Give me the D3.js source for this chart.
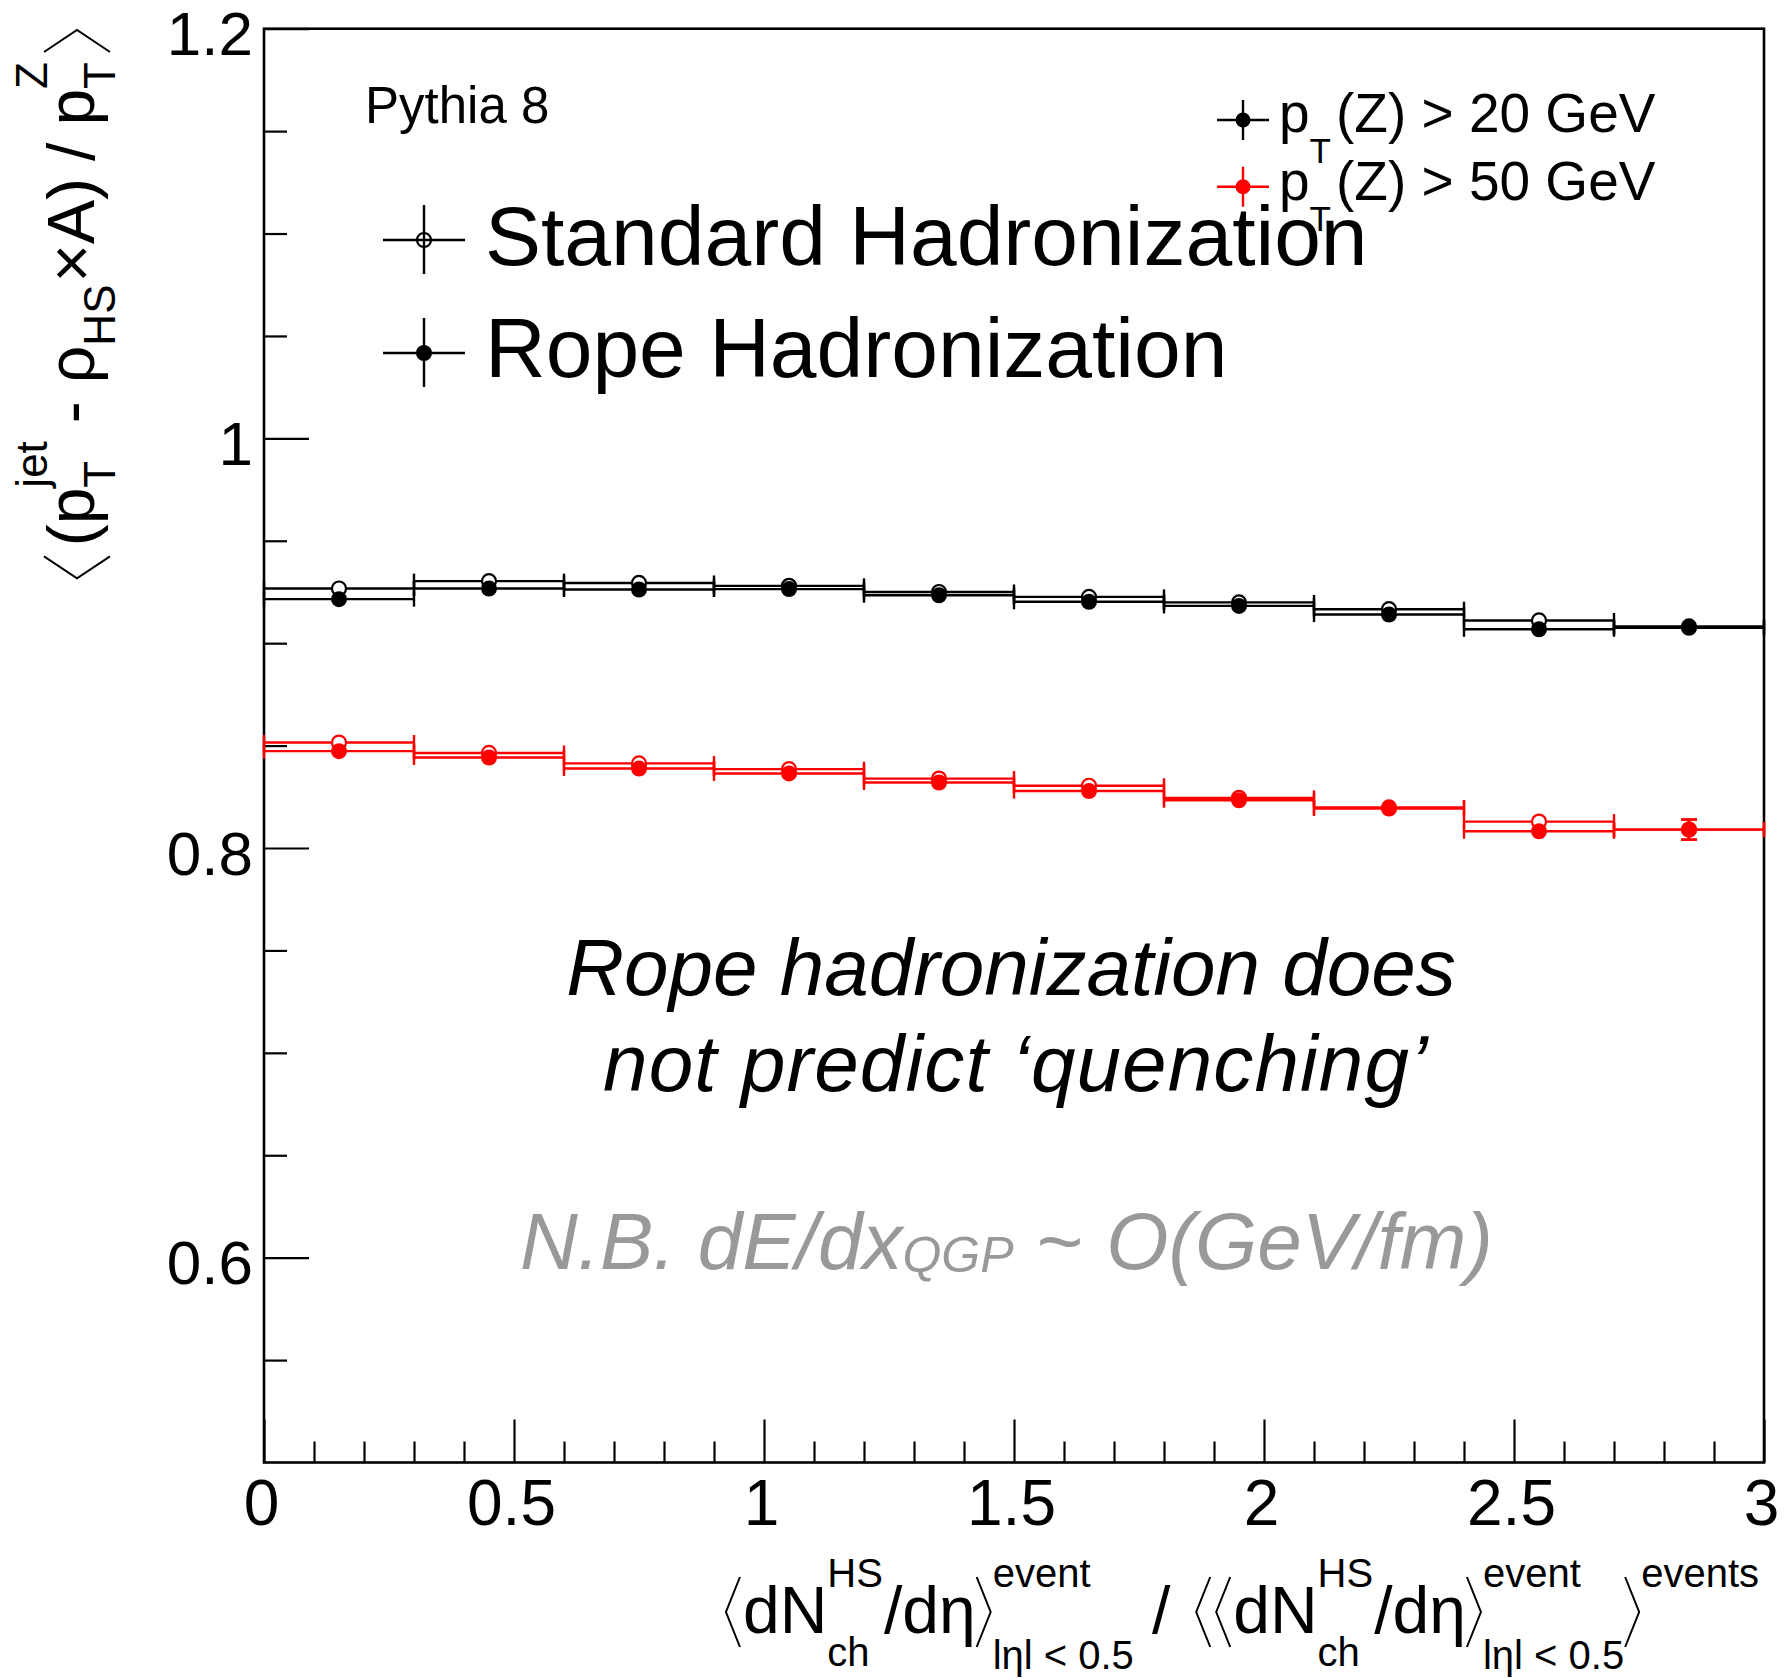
<!DOCTYPE html>
<html>
<head>
<meta charset="utf-8">
<script src="https://cdn.jsdelivr.net/npm/d3@7"></script>
<style>
  html, body { margin: 0; padding: 0; background: #fff; }
  svg { display: block; }
  text { font-family: "Liberation Sans", Arial, Helvetica, sans-serif; fill: #000; }
</style>
</head>
<body>
<svg id="chart" width="1785" height="1678"></svg>
<script>
// ---- data -------------------------------------------------------------
// multiplicity bins (normalised dNch/deta), 10 bins of width 0.3
const binEdges   = [0, 0.3, 0.6, 0.9, 1.2, 1.5, 1.8, 2.1, 2.4, 2.7, 3.0];
const binCenters = [0.15, 0.45, 0.75, 1.05, 1.35, 1.65, 1.95, 2.25, 2.55, 2.85];

// pT(Z) > 20 GeV
const std20  = [0.9267, 0.9303, 0.9294, 0.9280, 0.9250, 0.9226, 0.9199, 0.9166, 0.9111, 0.9082];
const rope20 = [0.9215, 0.9267, 0.9262, 0.9264, 0.9234, 0.9202, 0.9182, 0.9140, 0.9068, 0.9075];
const std20Err  = [0.0012, 0.0012, 0.0012, 0.0013, 0.0013, 0.0014, 0.0015, 0.0017, 0.0020, 0.0025];
const rope20Err = [0.0012, 0.0012, 0.0012, 0.0013, 0.0013, 0.0014, 0.0015, 0.0017, 0.0020, 0.0025];

// pT(Z) > 50 GeV
const std50  = [0.8515, 0.8464, 0.8413, 0.8385, 0.8339, 0.8304, 0.8245, 0.8198, 0.8129, 0.8090];
const rope50 = [0.8473, 0.8442, 0.8388, 0.8364, 0.8320, 0.8278, 0.8233, 0.8193, 0.8082, 0.8090];
const std50Err  = [0.0015, 0.0015, 0.0015, 0.0016, 0.0017, 0.0018, 0.0020, 0.0023, 0.0030, 0.0049];
const rope50Err = [0.0015, 0.0015, 0.0015, 0.0016, 0.0017, 0.0018, 0.0020, 0.0023, 0.0030, 0.0049];

// axes
const xTickValues = [0, 0.5, 1, 1.5, 2, 2.5, 3];
const xTickLabels = ["0", "0.5", "1", "1.5", "2", "2.5", "3"];
const xMinorTicks = d3.range(0, 31).map(i => i / 10).filter(v => Math.abs(v * 2 - Math.round(v * 2)) > 1e-6);
const yTickValues = [0.6, 0.8, 1.0, 1.2];
const yTickLabels = ["0.6", "0.8", "1", "1.2"];
const yMinorTicks = [0.55, 0.65, 0.7, 0.75, 0.85, 0.9, 0.95, 1.05, 1.1, 1.15];

// legend / annotation texts
const seriesNames = ["Standard Hadronization", "Rope Hadronization"];
const cutLabels = ["(Z) > 20 GeV", "(Z) > 50 GeV"];
const cutColors = ["#000000", "#ff0000"];

// ---- layout -----------------------------------------------------------
const svg = d3.select("#chart");
const X0 = 264, X1 = 1764, Y0 = 28.7, Y1 = 1462.5;
const x = d3.scaleLinear().domain([0, 3]).range([X0, X1]);
const y = d3.scaleLinear().domain([0.5, 1.2]).range([Y1, Y0]);

const LW = 2.4;     // error-bar line width
const CAP = 7.5;    // half length of bin-edge caps
const R = 8;        // marker radius

// ---- axes -------------------------------------------------------------
const yMajor = d3.axisLeft(y).tickValues(yTickValues)
  .tickFormat((d, i) => yTickLabels[i]).tickSizeInner(-45).tickSizeOuter(0).tickPadding(11);
const yMinor = d3.axisLeft(y).tickValues(yMinorTicks).tickFormat("").tickSizeInner(-23).tickSizeOuter(0);
const xMajor = d3.axisBottom(x).tickValues(xTickValues)
  .tickFormat((d, i) => xTickLabels[i]).tickSizeInner(-43).tickSizeOuter(0).tickPadding(17);
const xMinor = d3.axisBottom(x).tickValues(xMinorTicks).tickFormat("").tickSizeInner(-21).tickSizeOuter(0);

function styleAxis(g) {
  g.select(".domain").remove();
  g.selectAll(".tick line").attr("stroke", "#000").attr("stroke-width", 2.2);
  g.selectAll(".tick text").attr("font-family", null).style("fill", "#000");
}
svg.append("g").attr("transform", `translate(${X0},0)`).call(yMinor).call(styleAxis);
svg.append("g").attr("transform", `translate(${X0},0)`).call(yMajor).call(styleAxis)
  .selectAll(".tick text").attr("font-size", 62).attr("dy", 26);
svg.append("g").attr("transform", `translate(0,${Y1})`).call(xMinor).call(styleAxis);
svg.append("g").attr("transform", `translate(0,${Y1})`).call(xMajor).call(styleAxis)
  .selectAll(".tick text").attr("font-size", 64).attr("dy", "0.71em").attr("dx", -3);

// frame
svg.append("rect").attr("x", X0).attr("y", Y0).attr("width", X1 - X0).attr("height", Y1 - Y0)
  .attr("fill", "none").attr("stroke", "#000").attr("stroke-width", 2.6);

// ---- data series ------------------------------------------------------
const plot = svg.append("g");

function drawBars(vals, errs, color) {
  const g = plot.append("g").attr("stroke", color).attr("stroke-width", LW).attr("fill", "none");
  vals.forEach((v, i) => {
    const xl = x(binEdges[i]), xr = x(binEdges[i + 1]), yy = y(v);
    g.append("line").attr("x1", xl).attr("x2", xr).attr("y1", yy).attr("y2", yy);
    g.append("line").attr("x1", xl).attr("x2", xl).attr("y1", yy - CAP).attr("y2", yy + CAP);
    g.append("line").attr("x1", xr).attr("x2", xr).attr("y1", yy - CAP).attr("y2", yy + CAP);
    const eTop = y(v + errs[i]), eBot = y(v - errs[i]);
    if (yy - eTop > R) {
      const xc = x(binCenters[i]);
      g.append("line").attr("x1", xc).attr("x2", xc).attr("y1", eTop).attr("y2", eBot);
      g.append("line").attr("x1", xc - 8).attr("x2", xc + 8).attr("y1", eTop).attr("y2", eTop);
      g.append("line").attr("x1", xc - 8).attr("x2", xc + 8).attr("y1", eBot).attr("y2", eBot);
    }
  });
}
function drawMarkers(vals, color, open) {
  plot.append("g").selectAll("circle").data(vals).join("circle")
    .attr("cx", (d, i) => x(binCenters[i])).attr("cy", d => y(d))
    .attr("r", open ? R - 1 : R)
    .attr("fill", open ? "#fff" : color)
    .attr("stroke", color).attr("stroke-width", open ? 2.2 : 0);
}

[[std20, rope20, std20Err, rope20Err, cutColors[0]],
 [std50, rope50, std50Err, rope50Err, cutColors[1]]].forEach(([s, r, se, re, c]) => {
  drawBars(s, se, c);
  drawBars(r, re, c);
  drawMarkers(s, c, true);
  drawMarkers(r, c, false);
});

// ---- legends ----------------------------------------------------------
function legendCross(cx, cy, hw, up, down, color, open, r, sw) {
  const g = svg.append("g").attr("stroke", color).attr("stroke-width", sw);
  g.append("line").attr("x1", cx - hw).attr("x2", cx + hw).attr("y1", cy).attr("y2", cy);
  g.append("line").attr("x1", cx).attr("x2", cx).attr("y1", cy - up).attr("y2", cy + down);
  svg.append("circle").attr("cx", cx).attr("cy", cy).attr("r", open ? r - 1 : r)
    .attr("fill", open ? "none" : color).attr("stroke", color).attr("stroke-width", open ? 2.2 : 0);
}

// hadronization model legend
[[240, 265, true], [353, 377, false]].forEach(([my, by, open], i) => {
  legendCross(424, my, 41, 35, 34, "#000", open, 8, 2.4);
  svg.append("text").attr("x", 485).attr("y", by).attr("font-size", 84).text(seriesNames[i]);
});

// Z pT cut legend
[[120, 131.7], [186.7, 199.5]].forEach(([my, by], i) => {
  legendCross(1243, my, 26, 20, 20, cutColors[i], false, 7.5, 2.4);
  const t = svg.append("text").attr("x", 1279).attr("y", by).attr("font-size", 55);
  t.append("tspan").text("p");
  t.append("tspan").attr("font-size", 35).attr("dy", 31).text("T");
  t.append("tspan").attr("dy", -31).attr("dx", 5).text(cutLabels[i]);
});

// generator label
svg.append("text").attr("x", 365).attr("y", 123).attr("font-size", 51).text("Pythia 8");

// ---- annotations ------------------------------------------------------
svg.append("text").attr("x", 1011).attr("y", 995).attr("font-size", 80).attr("font-style", "italic")
  .attr("text-anchor", "middle").text("Rope hadronization does");
svg.append("text").attr("x", 1016).attr("y", 1091).attr("font-size", 80).attr("font-style", "italic")
  .attr("letter-spacing", 1.1).attr("text-anchor", "middle").text("not predict \u2018quenching\u2019");

const nb = svg.append("text").attr("x", 520).attr("y", 1269).attr("font-size", 80)
  .attr("font-style", "italic").style("fill", "#999999");
nb.append("tspan").text("N.B. dE/dx");
nb.append("tspan").attr("font-size", 50).attr("dy", 3).text("QGP");
nb.append("tspan").attr("dy", -3).attr("dx", 22).text("~");
nb.append("tspan").attr("dx", 24).text("O(GeV/fm)");

// ---- rich axis titles -------------------------------------------------
function richText(parent, parts) {
  const g = parent.append("g");
  let cx = 0;
  for (const p of parts) {
    if (p.bracket) {
      const x0 = cx + (p.padL || 0), w = p.w, mid = (p.top + p.bot) / 2;
      const d = p.bracket === "lt"
        ? `M${x0 + w},${p.top}L${x0},${mid}L${x0 + w},${p.bot}`
        : `M${x0},${p.top}L${x0 + w},${mid}L${x0},${p.bot}`;
      g.append("path").attr("d", d).attr("fill", "none").attr("stroke", "#000").attr("stroke-width", p.sw || 2);
      cx = x0 + w + (p.padR || 0);
    } else if (p.stack) {
      let wmax = 0;
      for (const q of p.stack) {
        const t = g.append("text").attr("x", cx).attr("y", q.dy).attr("font-size", q.size).text(q.text);
        wmax = Math.max(wmax, t.node().getComputedTextLength());
      }
      cx += wmax + (p.gap || 0);
    } else {
      const t = g.append("text").attr("x", cx + (p.dx || 0)).attr("y", p.dy || 0)
        .attr("font-size", p.size).text(p.text);
      cx += (p.dx || 0) + t.node().getComputedTextLength();
    }
  }
  return { g, width: cx };
}

// x title: <dNch/deta>_event / <<dNch/deta>_event>_events
const XF = 66, XS = 40, SUP = -46, SUBX = 33;
const ltX = { bracket: "lt", w: 14, top: -56, bot: 14, padL: 1, padR: 3, sw: 2 };
const gtX = { bracket: "gt", w: 14, top: -56, bot: 14, padL: 1, padR: 2, sw: 2 };
const dNpart = [
  { text: "dN", size: XF },
  { stack: [{ text: "HS", size: XS, dy: SUP }, { text: "ch", size: XS, dy: SUBX }], gap: 1 },
  { text: "/d\u03b7", size: XF },
];
const evStack = { stack: [{ text: "event", size: XS, dy: SUP }, { text: "l\u03b7l < 0.5", size: XS, dy: SUBX + 3 }] };
const xt = richText(svg, [
  ltX, ...dNpart, gtX, evStack,
  { text: "/", size: XF, dx: 18 },
  { ...ltX, padL: 26, padR: 5 }, ltX, ...dNpart, gtX, evStack, gtX,
  { text: "events", size: XS, dy: SUP },
]);
xt.g.attr("transform", `translate(${1759 - xt.width},1633)`);

// y title: <(pT_jet - rho_HS x A) / pT_Z>, rotated
const YF = 66, YS = 44;
const yt = richText(svg, [
  { bracket: "lt", w: 22, top: -50, bot: 16, padL: 3, padR: 10, sw: 2 },
  { text: "(p", size: YF },
  { stack: [{ text: "jet", size: YS, dy: -47 }, { text: "T", size: YS, dy: 21 }] },
  { text: "-", size: YF, dx: 18 },
  { text: "\u03c1", size: YF, dx: 18 },
  { text: "HS", size: YS, dy: 21 },
  { text: "\u00d7A)", size: YF, dx: 2 },
  { text: "/", size: YF, dx: 17 },
  { text: "p", size: YF, dx: 17 },
  { stack: [{ text: "Z", size: YS, dy: -47 }, { text: "T", size: YS, dy: 21 }] },
  { bracket: "gt", w: 22, top: -50, bot: 16, padL: 10, padR: 2, sw: 2 },
]);
yt.g.attr("transform", `translate(94,28) rotate(-90) translate(${-yt.width},0)`);
</script>
</body>
</html>
